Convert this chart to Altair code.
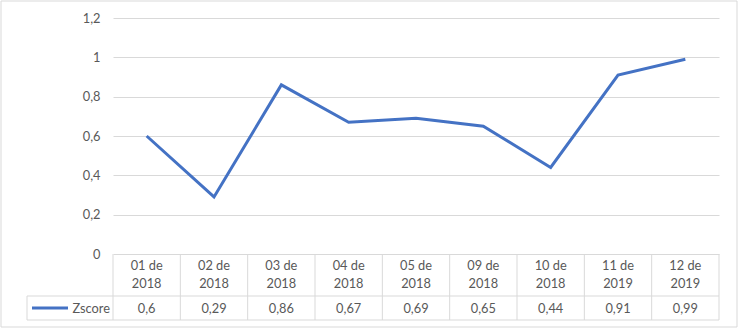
import altair as alt
import pandas as pd

months = ["01", "02", "03", "04", "05", "09", "10", "11", "12"]
years = ["2018", "2018", "2018", "2018", "2018", "2018", "2018", "2019", "2019"]
zscore = [0.6, 0.29, 0.86, 0.67, 0.69, 0.65, 0.44, 0.91, 0.99]
y_ticks = [0, 0.2, 0.4, 0.6, 0.8, 1.0, 1.2]
series_name = "Zscore"

cats = [f"{m} de {y}" for m, y in zip(months, years)]
df = pd.DataFrame({
    "cat": cats,
    "line1": [f"{m} de" for m in months],
    "line2": years,
    "value": zscore,
    "label": [str(v).replace(".", ",") for v in zscore],
})
one = pd.DataFrame({"k": [0]})

W, H = 606, 236
BLUE = "#4472C4"
GRID = "#d9d9d9"
TXT = "#595959"
FS = 12.8

xcat = dict(field="cat", type="nominal", sort=cats,
            scale=alt.Scale(type="band", paddingInner=0, paddingOuter=0),
            axis=None)

line = alt.Chart(df).mark_line(color=BLUE, strokeWidth=3, clip=False).encode(
    x=alt.X(bandPosition=0.5, **xcat),
    y=alt.Y("value:Q", scale=alt.Scale(domain=[0, 1.2], nice=False, zero=True),
            axis=alt.Axis(values=y_ticks, title=None, domain=False, ticks=False,
                          grid=True, gridColor=GRID, gridWidth=1,
                          labelColor=TXT, labelFontSize=FS, labelPadding=13,
                          labelExpr="replace(format(datum.value, '.1~f'), '.', ',')")),
)

col_borders = alt.Chart(df).mark_rule(color=GRID, strokeWidth=1).encode(
    x=alt.X(bandPosition=0, **xcat),
    y=alt.value(236), y2=alt.value(302),
)
right_border = alt.Chart(one).mark_rule(color=GRID, strokeWidth=1).encode(
    x=alt.value(W), y=alt.value(236), y2=alt.value(302))
legend_left = alt.Chart(one).mark_rule(color=GRID, strokeWidth=1).encode(
    x=alt.value(-86), y=alt.value(278), y2=alt.value(302))
hline1 = alt.Chart(one).mark_rule(color=GRID, strokeWidth=1).encode(
    x=alt.value(-86), x2=alt.value(W), y=alt.value(278))
hline2 = alt.Chart(one).mark_rule(color=GRID, strokeWidth=1).encode(
    x=alt.value(-86), x2=alt.value(W), y=alt.value(302))

head1 = alt.Chart(df).mark_text(color=TXT, fontSize=FS, baseline="middle").encode(
    x=alt.X(bandPosition=0.5, **xcat), y=alt.value(247.5), text="line1:N")
head2 = alt.Chart(df).mark_text(color=TXT, fontSize=FS, baseline="middle").encode(
    x=alt.X(bandPosition=0.5, **xcat), y=alt.value(265.5), text="line2:N")
vals = alt.Chart(df).mark_text(color=TXT, fontSize=FS, baseline="middle").encode(
    x=alt.X(bandPosition=0.5, **xcat), y=alt.value(290.5), text="label:N")

leg_sym = alt.Chart(one).mark_rule(color=BLUE, strokeWidth=3).encode(
    x=alt.value(-81), x2=alt.value(-45), y=alt.value(290))
leg_txt = alt.Chart(pd.DataFrame({"name": [series_name]})).mark_text(
    color=TXT, fontSize=FS, align="right", baseline="middle").encode(
    x=alt.value(-3), y=alt.value(290.5), text="name:N")

outer = alt.Chart(one).mark_rect(fill=None, stroke=GRID, strokeWidth=1).encode(
    x=alt.value(-112), x2=alt.value(624), y=alt.value(-17), y2=alt.value(309))

chart = alt.layer(
    outer, col_borders, right_border, legend_left, hline1, hline2,
    head1, head2, vals, leg_sym, leg_txt, line,
).properties(
    width=W, height=H,
    autosize=alt.AutoSizeParams(type="none"),
    padding={"left": 113, "top": 18, "right": 19, "bottom": 75},
    background="white",
).configure(font="Lato").configure_view(stroke=None)

chart.save("out.html", embed_options={"renderer": "svg", "actions": False})
